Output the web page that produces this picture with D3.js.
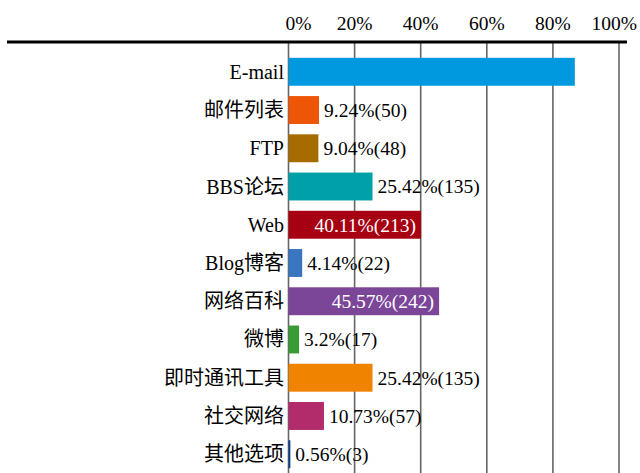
<!DOCTYPE html>
<meta charset="utf-8">
<style>
  body { margin: 0; background: #fff; }
  text { font-family: "Liberation Serif", "Times New Roman", "Noto Sans CJK SC", serif; }
</style>
<body>
<script src="https://d3js.org/d3.v7.min.js"></script>
<script>

var width = 640,
    height = 473;

// data (share of 531 respondents)
var categories = ["E-mail", "邮件列表", "FTP", "BBS论坛", "Web", "Blog博客", "网络百科", "微博", "即时通讯工具", "社交网络", "其他选项"];
var percents = [86.63, 9.24, 9.04, 25.42, 40.11, 4.14, 45.57, 3.2, 25.42, 10.73, 0.56];
var counts = [460, 50, 48, 135, 213, 22, 242, 17, 135, 57, 3];
var showLabel = [false, true, true, true, true, true, true, true, true, true, true];
var labelInside = [false, false, false, false, true, false, true, false, false, false, false];
var colors = ["#0099e0", "#ee5507", "#a66c00", "#00a0a8", "#a60012", "#3a75c0", "#7b4598", "#3a9a35", "#f08300", "#b22b6b", "#0a3c8c"];
var tickValues = [0, 20, 40, 60, 80, 100];

var rows = categories.map(function(c, i) {
  return { name: c, pct: percents[i], n: counts[i], show: showLabel[i], inside: labelInside[i], color: colors[i] };
});

var x = d3.scaleLinear().domain([0, 100]).range([288.5, 619]);
var y = d3.scaleBand().domain(categories).range([54, 472]).paddingInner(0.27).paddingOuter(0.1);

var svg = d3.select("body").append("svg")
    .attr("width", width)
    .attr("height", height);

// vertical grid lines
svg.append("g").selectAll("line")
    .data(tickValues)
  .enter().append("line")
    .attr("x1", function(d) { return x(d); })
    .attr("x2", function(d) { return x(d); })
    .attr("y1", 42)
    .attr("y2", height)
    .attr("stroke", "#666")
    .attr("stroke-width", 1.6);

// top axis labels (end ones kept inside the frame)
var last = tickValues.length - 1;
svg.append("g").selectAll("text")
    .data(tickValues)
  .enter().append("text")
    .attr("x", function(d, i) { return i == 0 ? x(d) - 3 : i == last ? 637 : x(d); })
    .attr("y", 30)
    .attr("text-anchor", function(d, i) { return i == 0 ? "start" : i == last ? "end" : "middle"; })
    .style("font-size", "19.5px")
    .text(function(d) { return d + "%"; });

// top heavy rule
svg.append("line")
    .attr("x1", 7).attr("x2", 627)
    .attr("y1", 42).attr("y2", 42)
    .attr("stroke", "#000")
    .attr("stroke-width", 3);

// bars
svg.append("g").selectAll("rect")
    .data(rows)
  .enter().append("rect")
    .attr("x", x(0))
    .attr("y", function(d) { return y(d.name); })
    .attr("width", function(d) { return x(d.pct) - x(0); })
    .attr("height", y.bandwidth())
    .attr("fill", function(d) { return d.color; });

// category labels
svg.append("g").selectAll("text")
    .data(rows)
  .enter().append("text")
    .attr("x", 284)
    .attr("y", function(d) { return y(d.name) + y.bandwidth() / 2; })
    .attr("dy", "0.35em")
    .attr("text-anchor", "end")
    .style("font-size", "20px")
    .text(function(d) { return d.name; });

// value labels
svg.append("g").selectAll("text")
    .data(rows.filter(function(d) { return d.show; }))
  .enter().append("text")
    .attr("x", function(d) { return d.inside ? x(d.pct) - 5 : x(d.pct) + 5; })
    .attr("y", function(d) { return y(d.name) + y.bandwidth() / 2; })
    .attr("dy", "0.35em")
    .attr("text-anchor", function(d) { return d.inside ? "end" : "start"; })
    .attr("fill", function(d) { return d.inside ? "#fff" : "#000"; })
    .style("font-size", "19.5px")
    .text(function(d) { return d.pct + "%(" + d.n + ")"; });

</script>
